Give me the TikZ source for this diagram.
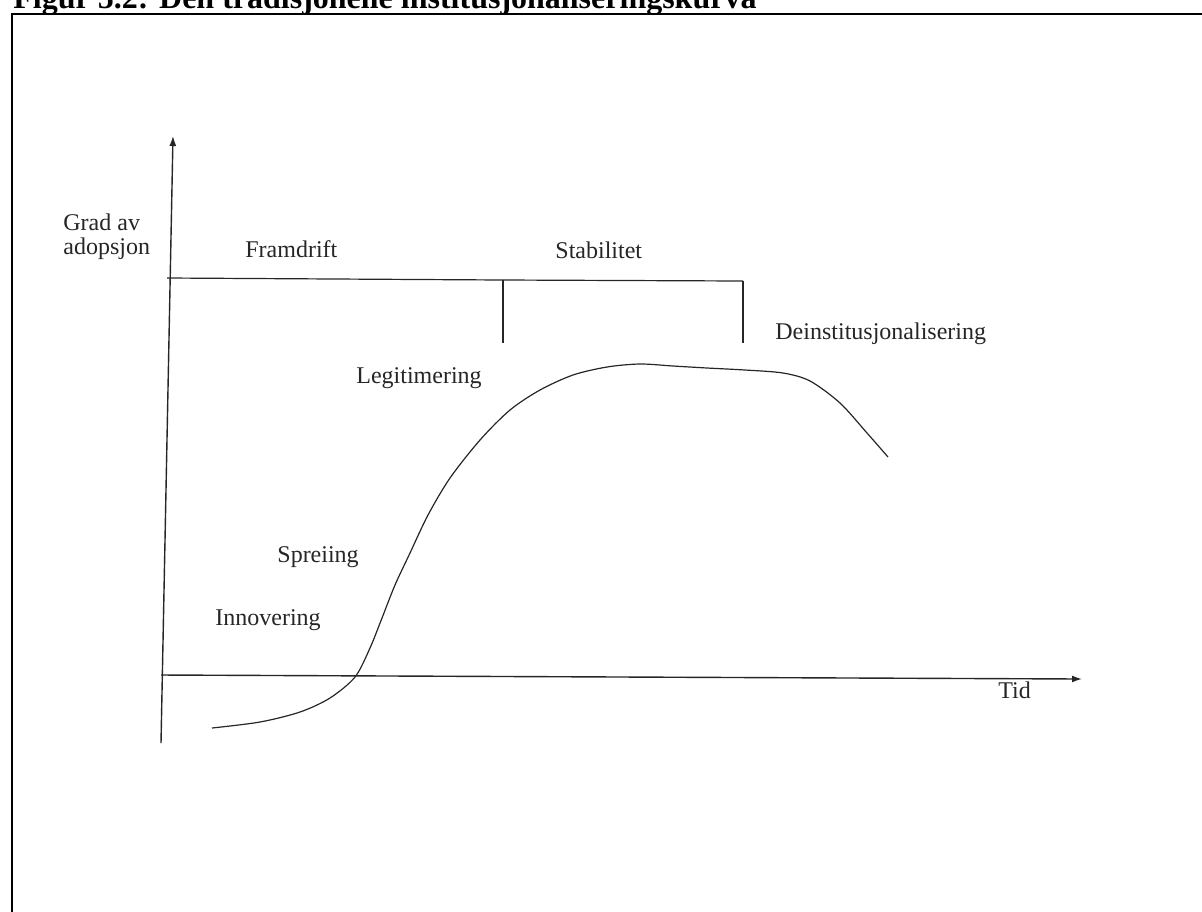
\documentclass[tikz,border=0pt]{standalone}
\usepackage{fontspec}
\setmainfont{Liberation Serif}
\usetikzlibrary{positioning,arrows.meta}

\begin{document}
\begin{tikzpicture}[
    x=0.5pt, y=-0.5pt,
    lbl/.style={anchor=base west, inner sep=0pt, text=black!85, font=\fontsize{12}{14}\selectfont},
    axis/.style={line width=0.7pt, draw=black!85, -{Latex[length=5pt, width=3.5pt]}},
    bar/.style={line width=0.6pt, draw=black!85},
    frame/.style={line width=0.7pt, draw=black},
    ]
    \useasboundingbox (0,0) rectangle (1202,911);
    \clip (0,0) rectangle (1202,911);

    % title and frame
    \node[anchor=base west, inner sep=0pt, font=\bfseries\fontsize{16}{18}\selectfont] (title) at (13,8)
        {Figur 5.2: Den tradisjonelle institusjonaliseringskurva};
    \draw[frame] (12,940) -- (12,14) -- (1230,14) -- (1230,940);

    % axes
    \coordinate (yO) at (161,743);
    \coordinate (yT) at (173,136);
    \coordinate (xO) at (161,675);
    \coordinate (xT) at (1082,679);
    \draw[axis] (yO) -- (yT);
    \draw[axis] (xO) -- (xT);

    % phase bar
    \coordinate (b0) at (167,278);
    \coordinate (b1) at (503,280);
    \coordinate (b2) at (743,281);
    \coordinate (t1) at (503,343);
    \coordinate (t2) at (743,343);
    \draw[bar] (b0) -- (b1) -- (b2);
    \draw[bar] (b1) -- (t1);
    \draw[bar] (b2) -- (t2);

    % curve
    \draw[bar] plot[smooth, tension=0.5] coordinates {
        (212,728) (260,722) (300,712) (330,698) (355,677)
        (370,648) (382,618) (395,585) (410,553) (428,515)
        (450,478) (480,440) (510,410) (540,390) (573,375) (607,367)
        (640,364) (673,366) (707,368) (745,370) (783,373) (810,381)
        (840,403) (867,433) (888,457)};

    % labels
    \node[lbl] (grad) at (63,230) {Grad av};
    \node[lbl] (adop) at (63,254) {adopsjon};
    \node[lbl] (fram) at (245,257) {Framdrift};
    \node[lbl] (stab) at (555,258) {Stabilitet};
    \node[lbl] (dein) at (775,339) {Deinstitusjonalisering};
    \node[lbl] (legi) at (356,383) {Legitimering};
    \node[lbl] (spre) at (277,562) {Spreiing};
    \node[lbl] (inno) at (215,625) {Innovering};
    \node[lbl] (tid)  at (998,698) {Tid};
\end{tikzpicture}
\end{document}
